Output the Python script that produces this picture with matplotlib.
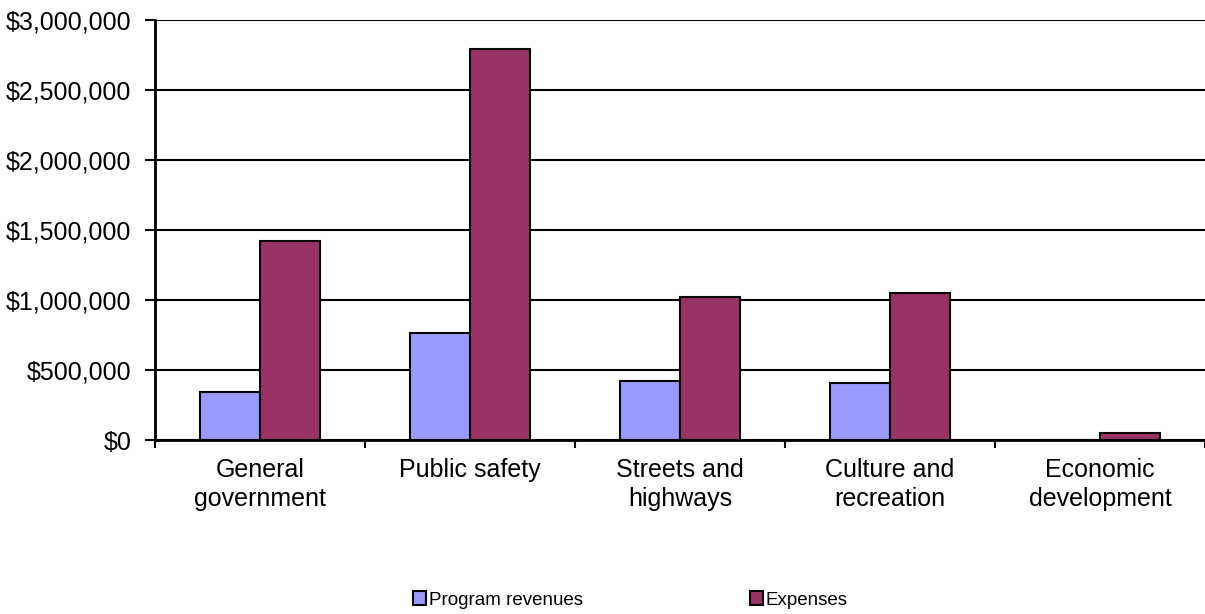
import matplotlib.pyplot as plt
import matplotlib.ticker as mticker
import numpy as np

plt.rcParams["font.family"] = ["Liberation Sans", "DejaVu Sans"]

categories = [
    "General\ngovernment",
    "Public safety",
    "Streets and\nhighways",
    "Culture and\nrecreation",
    "Economic\ndevelopment",
]
program_revenues = [345000, 762000, 420000, 407000, 0]
expenses = [1420000, 2795000, 1020000, 1048000, 47000]

REV_COLOR = "#9999ff"
EXP_COLOR = "#993366"

W, H = 1205, 614
fig = plt.figure(figsize=(W / 100, H / 100), dpi=100)
ax = fig.add_axes([155 / W, (H - 440) / H, 1050 / W, 420 / H])

x = np.arange(len(categories))
bw = 0.285
ax.bar(x - bw / 2, program_revenues, bw, color=REV_COLOR, edgecolor="black",
       linewidth=1.5, label="Program revenues", zorder=3)
ax.bar(x + bw / 2, expenses, bw, color=EXP_COLOR, edgecolor="black",
       linewidth=1.5, label="Expenses", zorder=3)

ax.set_xlim(-0.5, len(categories) - 0.5)
ax.set_ylim(0, 3000000)
ax.yaxis.set_major_locator(mticker.MultipleLocator(500000))
ax.yaxis.set_major_formatter(mticker.FuncFormatter(lambda v, _: f"${int(v):,}"))
ax.grid(axis="y", color="black", linewidth=1.5, zorder=0)

ax.set_xticks(x)
ax.set_xticklabels(categories, fontsize=18, linespacing=1.25)
ax.set_xticks(np.arange(len(categories) + 1) - 0.5, minor=True)
ax.tick_params(axis="x", which="major", length=0, pad=13)
ax.tick_params(axis="x", which="minor", length=6, width=1.5, direction="out")
ax.tick_params(axis="y", labelsize=18, length=7, width=1.5, pad=10)

for side in ("top", "right"):
    ax.spines[side].set_visible(False)
for side in ("left", "bottom"):
    ax.spines[side].set_linewidth(2)
ax.spines["bottom"].set_zorder(4)

fig.legend(loc="center", bbox_to_anchor=(0.523, 1 - 600 / H),
           ncol=2, frameon=False, fontsize=13.5, handlelength=0.7,
           handleheight=0.7, handletextpad=0.15, columnspacing=8.9)

fig.savefig("out.png", dpi=100)
